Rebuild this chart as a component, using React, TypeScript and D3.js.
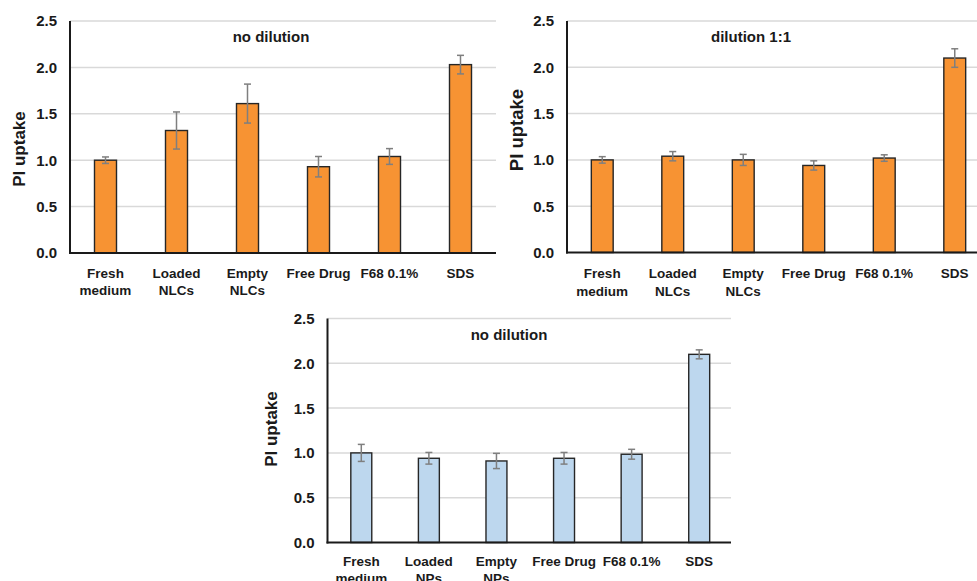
import React from "react";
import * as d3 from "d3";

const catsNLC = ["Fresh|medium", "Loaded|NLCs", "Empty|NLCs", "Free Drug", "F68 0.1%", "SDS"];
const catsNP = ["Fresh|medium", "Loaded|NPs", "Empty|NPs", "Free Drug", "F68 0.1%", "SDS"];

const p1Values = [1.0, 1.32, 1.61, 0.93, 1.04, 2.03];
const p1Errors = [0.035, 0.2, 0.21, 0.11, 0.085, 0.1];

const p2Values = [1.0, 1.04, 1.0, 0.94, 1.02, 2.1];
const p2Errors = [0.035, 0.05, 0.06, 0.05, 0.035, 0.1];

const p3Values = [1.0, 0.94, 0.91, 0.94, 0.985, 2.1];
const p3Errors = [0.095, 0.065, 0.085, 0.065, 0.055, 0.05];

const yTicks = [0, 0.5, 1.0, 1.5, 2.0, 2.5];

const FONT = "'Liberation Sans', Arial, sans-serif";

type PanelProps = {
  cats: string[];
  values: number[];
  errors: number[];
  title: string;
  fill: string;
  x0: number;
  x1: number;
  gridEnd: number;
  yTop: number;
  yBottom: number;
  titleX: number;
  titleY: number;
  labelX: number;
  labelY: number;
  labelSize: number;
  xl1: number;
  xl2: number;
};

function Panel(p: PanelProps) {
  const x = d3.scaleBand<string>().domain(p.cats).range([p.x0, p.x1]).paddingInner(0.69).paddingOuter(0.345);
  const y = d3.scaleLinear().domain([0, 2.5]).range([p.yBottom, p.yTop]);
  const bw = x.bandwidth();
  const cap = 3.5;
  return (
    <g>
      {yTicks.map((t) => (
        <g key={t}>
          {t > 0 && (
            <line x1={p.x0} x2={p.gridEnd} y1={y(t)} y2={y(t)} stroke="#d9d9d9" strokeWidth={1.5} />
          )}
          <text x={p.x0 - 13} y={y(t)} dy="0.36em" textAnchor="end" fontFamily={FONT} fontWeight="bold" fontSize={15} fill="#1a1a1a">
            {t.toFixed(1)}
          </text>
        </g>
      ))}
      {p.cats.map((c, i) => {
        const cx = (x(c) as number) + bw / 2;
        const v = p.values[i];
        const e = p.errors[i];
        return (
          <g key={c}>
            <rect x={x(c)} y={y(v)} width={bw} height={y(0) - y(v)} fill={p.fill} stroke="#262626" strokeWidth={1.4} />
            <line x1={cx} x2={cx} y1={y(v + e)} y2={y(v - e)} stroke="#7f7f7f" strokeWidth={1.5} />
            <line x1={cx - cap} x2={cx + cap} y1={y(v + e)} y2={y(v + e)} stroke="#7f7f7f" strokeWidth={1.5} />
            <line x1={cx - cap} x2={cx + cap} y1={y(v - e)} y2={y(v - e)} stroke="#7f7f7f" strokeWidth={1.5} />
            {c.split("|").map((ln, j) => (
              <text key={j} x={cx} y={j === 0 ? p.xl1 : p.xl2} textAnchor="middle" fontFamily={FONT} fontWeight="bold" fontSize={13.5} fill="#1a1a1a">
                {ln}
              </text>
            ))}
          </g>
        );
      })}
      <line x1={p.x0} x2={p.x0} y1={p.yTop} y2={p.yBottom + 1} stroke="#1a1a1a" strokeWidth={2} />
      <line x1={p.x0 - 1} x2={p.gridEnd} y1={p.yBottom} y2={p.yBottom} stroke="#1a1a1a" strokeWidth={2} />
      <text x={p.titleX} y={p.titleY} textAnchor="middle" fontFamily={FONT} fontWeight="bold" fontSize={15} fill="#1a1a1a">
        {p.title}
      </text>
      <text
        transform={`translate(${p.labelX},${p.labelY}) rotate(-90)`}
        textAnchor="middle"
        fontFamily={FONT}
        fontWeight="bold"
        fontSize={p.labelSize}
        fill="#1a1a1a"
      >
        PI uptake
      </text>
    </g>
  );
}

export default function App() {
  return (
    <svg width={977} height={581} style={{ position: "absolute", left: 0, top: 0, background: "#fff" }}>
      <rect width={977} height={581} fill="#fff" />
      <Panel cats={catsNLC} values={p1Values} errors={p1Errors} title="no dilution" fill="#f79333"
        x0={70} x1={496} gridEnd={496} yTop={21} yBottom={253} titleX={271} titleY={42}
        labelX={25} labelY={149} labelSize={17} xl1={278} xl2={295} />
      <Panel cats={catsNLC} values={p2Values} errors={p2Errors} title="dilution 1:1" fill="#f79333"
        x0={567} x1={990} gridEnd={977} yTop={21} yBottom={252.5} titleX={751} titleY={42}
        labelX={523} labelY={130} labelSize={18.5} xl1={278} xl2={296} />
      <Panel cats={catsNP} values={p3Values} errors={p3Errors} title="no dilution" fill="#bdd7ee"
        x0={327.5} x1={733} gridEnd={731} yTop={318.5} yBottom={542.5} titleX={509} titleY={340}
        labelX={277} labelY={429} labelSize={17} xl1={566} xl2={583} />
    </svg>
  );
}
